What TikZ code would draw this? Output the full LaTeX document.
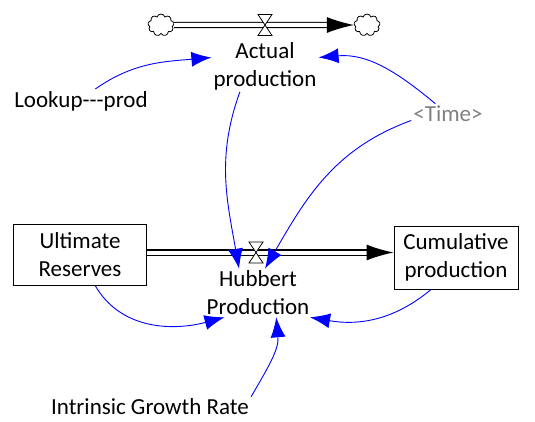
\documentclass[tikz,border=0pt]{standalone}
\usepackage{fontspec}
\setmainfont{Carlito}
\usepackage{tikz}
\usetikzlibrary{calc}
\usetikzlibrary{arrows.meta}
\usetikzlibrary{shapes}
\usetikzlibrary{shapes.symbols}
\tikzstyle{var} = [draw = none, inner sep = 2, align = center, font = \fontsize{23}{28}\selectfont]
\tikzstyle{stock} = [rectangle, draw, line width = 1, inner sep = 2, align = center, font = \fontsize{23}{28}\selectfont, minimum width = 133, minimum height = 61]
\tikzstyle{src} = [cloud, cloud puffs = 9, draw, line width = 0.8, minimum width = 26, minimum height = 22, inner sep = 0]
\tikzstyle{pipe} = [double, double distance = 4pt, line width = 1.2pt, -{Latex[length=27pt, width=16pt]}]
\tikzstyle{link} = [-{Latex[length=20pt, width=15pt]}, draw = blue, line width = 0.9pt]
\tikzset{valve/.pic = {\draw [fill = white, line width = 0.8pt] (-7, 10.5) -- (7, 10.5) -- (0, 0) -- cycle (-7, -10.5) -- (7, -10.5) -- (0, 0) -- cycle;}}

\begin{document}
\begin{tikzpicture}[x = 1pt, y = 1pt]
\useasboundingbox (0, 0) rectangle (535, 421);
% top flow
\node [src] (c1) at (161, 396) {};
\node [src] (c2) at (367, 396) {};
\draw [pipe] (c1) -- (c2);
\pic at (265, 396) {valve};
\node [var] (ap) at (265, 355) {Actual\\production};
\node [var] (lk) at (81, 320) {Lookup-{}-{}-prod};
\node [var, text = gray] (tm) at (448, 307) {<Time>};
% stocks and the main flow
\node [stock] (ur) at (80, 166.5) {Ultimate\\Reserves};
\node [stock, minimum width = 124, minimum height = 63] (cp) at (456, 163.5) {Cumulative\\production};
\coordinate (hv) at (256, 168.5);
\draw [pipe] (ur.east |- hv) -- (cp.west |- hv);
\pic at (hv) {valve};
\node [var] (hp) at (258, 128) {Hubbert\\Production};
\node [var] (ig) at (150, 14) {Intrinsic Growth Rate};
% links
\draw [link] (lk.40) to [out = 35, in = 185] (ap.171);
\draw [link] (tm.141) to [out = 140, in = 5] (ap.9);
\draw [link] (ap.226) to [out = 250, in = 100] (hp.128);
\draw [link] (tm.190) to [out = 200, in = 60] (hp.74);
\draw [link] (ur.296) to [out = 300, in = 195] (hp.216);
\draw [link] (cp.232) to [out = 220, in = 350] (hp.335);
\draw [link] (ig.north east) to [out = 60, in = 275] (hp.307);
\end{tikzpicture}
\end{document}
